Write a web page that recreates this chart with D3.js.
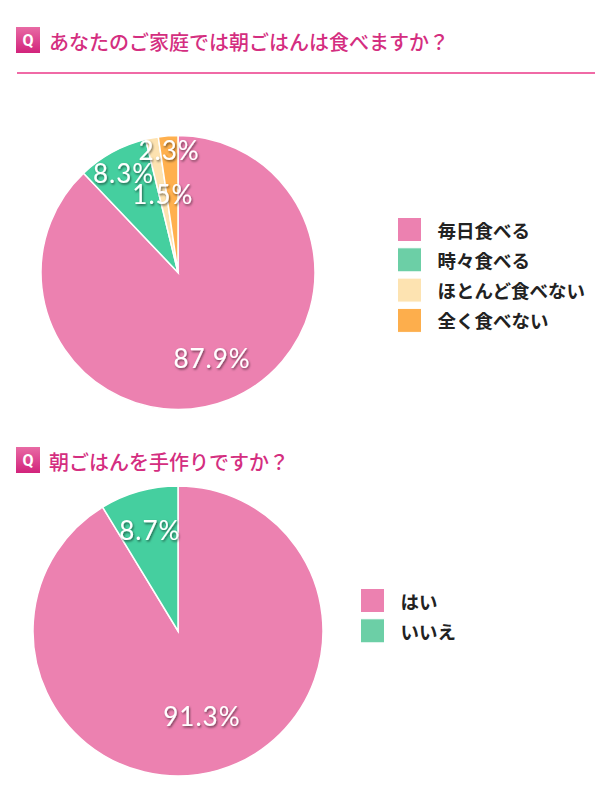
<!DOCTYPE html>
<html>
<head>
<meta charset="utf-8">
<script src="https://cdn.jsdelivr.net/npm/d3@7"></script>
<style>
	body { margin: 0; background: #fff; }
	svg { display: block; }
</style>
</head>
<body>
<script>
/* Data. */
const q1Title = 'あなたのご家庭では朝ごはんは食べますか？';
const q1Labels = ['毎日食べる', '時々食べる', 'ほとんど食べない', '全く食べない'];
const q1Values = [87.9, 8.3, 1.5, 2.3];

const q2Title = '朝ごはんを手作りですか？';
const q2Labels = ['はい', 'いいえ'];
const q2Values = [91.3, 8.7];

/* Colours. */
const sliceColors = ['#ec81b0', '#45cf9f', '#fde2b0', '#ffb04e'];
const legendColors = ['#ec81b0', '#6ccfa6', '#fde3b1', '#fdae4c'];

const jpFont = '"Noto Sans CJK JP", "Noto Sans", sans-serif';
const numFont = 'Lato, "Noto Sans", sans-serif';

const svg = d3.select('body').append('svg')
	.attr('width', 610)
	.attr('height', 800);

/* Shadow for the percent labels. */
const defs = svg.append('defs');
defs.append('filter')
		.attr('id', 'shadow')
		.attr('x', '-20%').attr('y', '-30%')
		.attr('width', '140%').attr('height', '160%')
	.append('feDropShadow')
		.attr('dx', 1).attr('dy', 1.5)
		.attr('stdDeviation', 1.2)
		.attr('flood-color', '#000')
		.attr('flood-opacity', 0.55);

const grad = defs.append('linearGradient')
	.attr('id', 'qgrad')
	.attr('x1', 0).attr('y1', 0).attr('x2', 0).attr('y2', 1);
grad.append('stop').attr('offset', '0%').attr('stop-color', '#e86aa4');
grad.append('stop').attr('offset', '100%').attr('stop-color', '#d2237c');

/**
 * Draws a question header with the Q icon.
 */
function drawHeader(title, y) {
	let g = svg.append('g').attr('transform', 'translate(16,' + y + ')');
	g.append('rect')
		.attr('width', 24).attr('height', 26)
		.attr('fill', 'url(#qgrad)');
	g.append('text')
		.attr('x', 12).attr('y', 13.5)
		.attr('text-anchor', 'middle')
		.attr('dominant-baseline', 'central')
		.attr('fill', '#fff')
		.attr('font-family', 'Roboto, sans-serif')
		.attr('font-weight', 'bold')
		.attr('font-size', 16)
		.text('Q');
	g.append('text')
		.attr('x', 33).attr('y', 14)
		.attr('dominant-baseline', 'central')
		.attr('fill', '#d42e80')
		.attr('font-family', jpFont)
		.attr('font-weight', 500)
		.attr('font-size', 20)
		.text(title);
}

/**
 * Draws a pie with its percent labels and legend.
 */
function drawPie(values, labels, cx, cy, radius, labelRadii, legendX, legendY) {
	let pie = d3.pie().sort(null).value(function(d) { return d; });
	let arc = d3.arc().innerRadius(0).outerRadius(radius);
	let arcs = pie(values);

	let g = svg.append('g').attr('transform', 'translate(' + cx + ',' + cy + ')');

	g.selectAll('path')
			.data(arcs)
		.enter().append('path')
			.attr('d', arc)
			.attr('fill', function(_, i) { return sliceColors[i]; })
			.attr('stroke', '#fff')
			.attr('stroke-width', 1.5);

	g.selectAll('.pct')
			.data(arcs)
		.enter().append('text')
			.attr('class', 'pct')
			.attr('transform', function(d, i) {
				let r = radius * labelRadii[i];
				let c = d3.arc().innerRadius(r).outerRadius(r).centroid(d);
				return 'translate(' + c[0] + ',' + c[1] + ')';
			})
			.attr('text-anchor', 'middle')
			.attr('dominant-baseline', 'central')
			.attr('fill', '#fff')
			.attr('font-family', numFont)
			.attr('font-size', 26)
			.attr('letter-spacing', 1)
			.attr('filter', 'url(#shadow)')
			.text(function(d) { return d.data.toFixed(1) + '%'; });

	let legend = svg.append('g').attr('transform', 'translate(' + legendX + ',' + legendY + ')');
	let rows = legend.selectAll('g')
			.data(labels)
		.enter().append('g')
			.attr('transform', function(_, i) { return 'translate(0,' + (i * 30.3) + ')'; });
	rows.append('rect')
		.attr('x', 0).attr('y', -12)
		.attr('width', 24).attr('height', 24)
		.attr('fill', function(_, i) { return legendColors[i]; })
		.attr('stroke', '#fff')
		.attr('stroke-width', 1);
	rows.append('text')
		.attr('x', 40).attr('y', 0)
		.attr('dominant-baseline', 'central')
		.attr('fill', '#222')
		.attr('font-family', jpFont)
		.attr('font-weight', 'bold')
		.attr('font-size', 18.5)
		.text(function(d) { return d; });
}

/* Question 1. */
drawHeader(q1Title, 27);
svg.append('line')
	.attr('x1', 17).attr('x2', 595)
	.attr('y1', 73).attr('y2', 73)
	.attr('stroke', '#f06aa6')
	.attr('stroke-width', 2);
drawPie(q1Values, q1Labels, 178, 272.5, 137, [0.67, 0.83, 0.58, 0.9], 397.5, 229.5);

/* Question 2. */
drawHeader(q2Title, 447);
drawPie(q2Values, q2Labels, 178, 631, 145, [0.61, 0.72], 360.5, 600.5);
</script>
</body>
</html>
